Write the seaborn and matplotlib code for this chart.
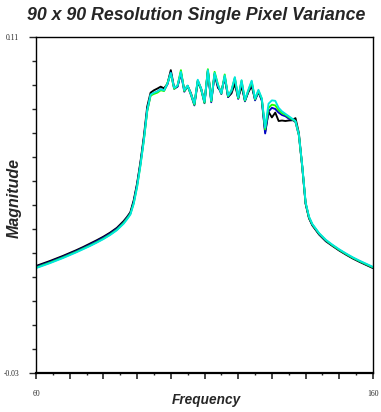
import matplotlib
matplotlib.use("Agg")
import matplotlib.pyplot as plt
import seaborn as sns
import pandas as pd
from matplotlib.ticker import FixedLocator, FixedFormatter, MultipleLocator

# ---- data ----
freq = [60, 62, 64, 66, 68, 70, 72, 74, 76, 78, 80, 82, 84, 86,
        87, 88, 89, 90, 91, 92, 93, 94, 95, 96, 97, 98, 99, 100,
        101, 102, 103, 104, 105, 106, 107, 108, 109, 110, 111, 112,
        113, 114, 115, 116, 117, 118, 119, 120, 121, 122, 123, 124,
        125, 126, 127, 128, 129, 130, 131, 132, 133, 134, 135, 136,
        137, 138, 139, 140, 141, 142, 144, 146, 148, 150, 152, 154,
        156, 158, 160]

black = [0.0146, 0.0156, 0.0166, 0.0177, 0.0188, 0.0200, 0.0212, 0.0225, 0.0239, 0.0253,
         0.0268, 0.0285, 0.0305, 0.0333, 0.0350, 0.0370, 0.0420, 0.0490, 0.0580, 0.0685,
         0.0810, 0.0868, 0.0878, 0.0885, 0.0893, 0.0886, 0.0905, 0.0962, 0.0888, 0.0895,
         0.0952, 0.0880, 0.0896, 0.0865, 0.0820, 0.0918, 0.0885, 0.0830, 0.0960, 0.0835,
         0.0945, 0.0888, 0.0875, 0.0930, 0.0850, 0.0865, 0.0905, 0.0845, 0.0895, 0.0835,
         0.0870, 0.0895, 0.0840, 0.0870, 0.0840, 0.0705, 0.0788, 0.0765, 0.0785, 0.0750,
         0.0752, 0.0750, 0.0752, 0.0753, 0.0762, 0.0700, 0.0560, 0.0405, 0.0345, 0.0315,
         0.0277, 0.0249, 0.0229, 0.0210, 0.0193, 0.0177, 0.0163, 0.0150, 0.0137]

blue = [0.0142, 0.0152, 0.0162, 0.0173, 0.0184, 0.0196, 0.0208, 0.0221, 0.0235, 0.0249,
        0.0264, 0.0281, 0.0301, 0.0328, 0.0347, 0.0366, 0.0414, 0.0485, 0.0574, 0.0676,
        0.0795, 0.0858, 0.0866, 0.0872, 0.0882, 0.0877, 0.0903, 0.0952, 0.0884, 0.0893,
        0.0950, 0.0872, 0.0895, 0.0858, 0.0815, 0.0912, 0.0882, 0.0824, 0.0958, 0.0828,
        0.0946, 0.0895, 0.0862, 0.0936, 0.0850, 0.0872, 0.0926, 0.0842, 0.0912, 0.0832,
        0.0872, 0.0908, 0.0836, 0.0872, 0.0835, 0.0698, 0.0790, 0.0805, 0.0800, 0.0785,
        0.0775, 0.0770, 0.0760, 0.0755, 0.0746, 0.0690, 0.0560, 0.0407, 0.0347, 0.0317,
        0.0279, 0.0251, 0.0231, 0.0212, 0.0195, 0.0179, 0.0165, 0.0152, 0.0139]

green = [0.0139, 0.0149, 0.0159, 0.0170, 0.0181, 0.0193, 0.0205, 0.0218, 0.0231, 0.0245,
         0.0260, 0.0277, 0.0297, 0.0325, 0.0343, 0.0363, 0.0408, 0.0478, 0.0568, 0.0670,
         0.0790, 0.0856, 0.0863, 0.0868, 0.0878, 0.0875, 0.0908, 0.0948, 0.0884, 0.0898,
         0.0962, 0.0875, 0.0896, 0.0860, 0.0818, 0.0918, 0.0882, 0.0826, 0.0966, 0.0832,
         0.0955, 0.0902, 0.0864, 0.0944, 0.0853, 0.0876, 0.0930, 0.0845, 0.0918, 0.0835,
         0.0876, 0.0914, 0.0840, 0.0876, 0.0842, 0.0715, 0.0805, 0.0818, 0.0815, 0.0795,
         0.0783, 0.0776, 0.0766, 0.0757, 0.0748, 0.0692, 0.0562, 0.0409, 0.0349, 0.0319,
         0.0281, 0.0253, 0.0232, 0.0213, 0.0196, 0.0180, 0.0166, 0.0153, 0.0140]

cyan = [0.0137, 0.0147, 0.0157, 0.0168, 0.0179, 0.0191, 0.0203, 0.0216, 0.0229, 0.0243,
        0.0258, 0.0275, 0.0295, 0.0322, 0.0340, 0.0360, 0.0405, 0.0475, 0.0565, 0.0668,
        0.0795, 0.0860, 0.0868, 0.0873, 0.0882, 0.0878, 0.0905, 0.0950, 0.0888, 0.0898,
        0.0955, 0.0878, 0.0898, 0.0862, 0.0822, 0.0922, 0.0885, 0.0830, 0.0962, 0.0835,
        0.0950, 0.0900, 0.0866, 0.0940, 0.0856, 0.0878, 0.0933, 0.0848, 0.0920, 0.0838,
        0.0880, 0.0918, 0.0843, 0.0880, 0.0845, 0.0722, 0.0822, 0.0836, 0.0834, 0.0805,
        0.0790, 0.0780, 0.0770, 0.0760, 0.0750, 0.0695, 0.0565, 0.0412, 0.0352, 0.0321,
        0.0283, 0.0255, 0.0234, 0.0215, 0.0198, 0.0182, 0.0168, 0.0155, 0.0142]

series_names = ["s1", "s2", "s3", "s4"]
series_colors = ["#000000", "#0000c8", "#22ff00", "#00e6e0"]

title = "90 x 90 Resolution Single Pixel Variance"
xlabel = "Frequency"
ylabel = "Magnitude"
x_range = (60, 160)
y_range = (-0.03, 0.11)

# ---- figure ----
sns.set_style("white")
plt.rcParams["font.family"] = ["Liberation Sans", "DejaVu Sans"]

fig = plt.figure(figsize=(3.81, 4.12), dpi=100)
ax = fig.add_axes([36 / 381, 1 - 373 / 412, (373 - 36) / 381, (373 - 37) / 412])

for name, vals, col in zip(series_names, [black, blue, green, cyan], series_colors):
    d = pd.DataFrame({"freq": freq, "val": vals})
    sns.lineplot(data=d, x="freq", y="val", color=col, linewidth=1.35, ax=ax,
                 legend=False, estimator=None, sort=False)

ax.set_xlim(*x_range)
ax.set_ylim(*y_range)

# ticks
ax.xaxis.set_major_locator(FixedLocator([60, 70, 80, 90, 100, 110, 120, 130, 140, 150, 160]))
ax.xaxis.set_major_formatter(FixedFormatter(["60", "", "", "", "", "", "", "", "", "", "160"]))
ax.xaxis.set_minor_locator(MultipleLocator(5))
ax.yaxis.set_major_locator(FixedLocator([-0.03, 0.11]))
ax.yaxis.set_major_formatter(FixedFormatter(["-0.03", "0.11"]))
ax.yaxis.set_minor_locator(MultipleLocator(0.01))

ax.tick_params(axis="x", which="major", direction="out", length=4, width=1.2,
               pad=8, labelsize=5.5, bottom=True)
ax.tick_params(axis="x", which="minor", direction="out", length=1.2, width=1, bottom=True)
ax.tick_params(axis="y", which="major", direction="out", length=5, width=1,
               pad=7, labelsize=5.5, left=True)
ax.tick_params(axis="y", which="minor", direction="out", length=3, width=1, left=True)
for lab in ax.get_xticklabels() + ax.get_yticklabels():
    lab.set_fontfamily(["Liberation Serif", "DejaVu Serif"])

for side, sp in ax.spines.items():
    sp.set_visible(True)
    sp.set_color("black")
    sp.set_linewidth(1.0)
ax.spines["bottom"].set_linewidth(1.6)

ax.set_xlabel("")
ax.set_ylabel("")
fig.text(206 / 381, 1 - 400 / 412, xlabel, ha="center", va="center",
         fontsize=9.8, fontweight="bold", fontstyle="italic")
fig.text(14 / 381, 1 - 198 / 412, ylabel, ha="center", va="center", rotation=90,
         fontsize=11.5, fontweight="bold", fontstyle="italic")
fig.text(196 / 381, 1 - 15 / 412, title, ha="center", va="center",
         fontsize=12.8, fontweight="bold", fontstyle="italic")

fig.savefig("out.png", dpi=100)
